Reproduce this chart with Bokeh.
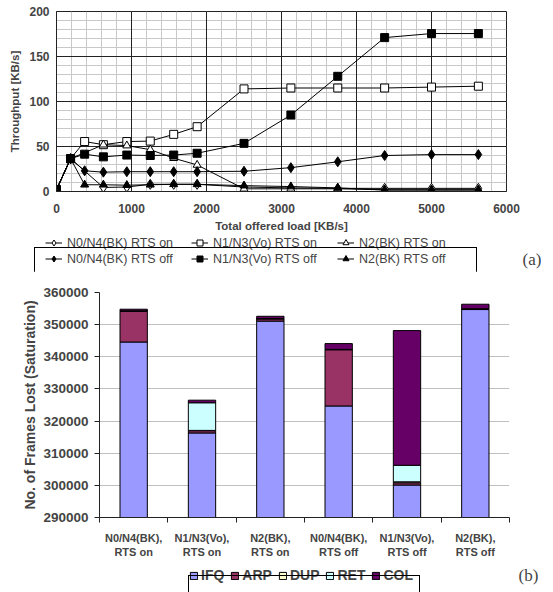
from bokeh.plotting import figure
from bokeh.models import (Range1d, FixedTicker, Legend, LegendItem, Label, Grid, Div,
                          ColumnDataSource, BasicTickFormatter)
from bokeh.layouts import column
from bokeh.embed import file_html
from bokeh.resources import INLINE

FONT = "Liberation Sans"

# ---------------- chart (a) data ----------------
load_all = [0, 187.5, 375, 625, 937.5, 1250, 1562.5, 1875, 2500, 3125, 3750, 4375, 5000, 5625]
load_on = [0, 187.5, 625, 937.5, 1250, 1562.5, 1875, 2500, 3125, 3750, 4375, 5000, 5625]
n0n4_rts_on = [2, 36.5, 4.5, 5, 8, 8, 8, 5, 4, 3.5, 3.5, 3.5, 3.5]
n1n3_rts_on = [2, 36.5, 55.5, 52, 55.5, 56, 63.5, 72, 114, 115, 115, 115, 116, 117]
n2_rts_on = [2, 36.5, 52, 51, 46.5, 37, 29.5, 3, 3, 3, 2, 2, 2]
n0n4_rts_off = [2, 36.5, 23, 21.5, 22, 22, 22, 22, 22.5, 26.5, 33, 40, 41, 41]
n1n3_rts_off = [2, 36.5, 41.5, 38.5, 40.5, 40, 40.5, 42.5, 53.5, 85, 128, 171, 175.5, 175.5]
n2_rts_off = [2, 36.5, 7.5, 7.5, 7, 7.5, 8, 8, 6.5, 5.5, 4, 1.5, 1.5, 1.5]
x_ticks_a = [0, 1000, 2000, 3000, 4000, 5000, 6000]
x_minor_a = list(range(0, 6001, 200))
y_ticks_a = [0, 50, 100, 150, 200]
y_minor_a = list(range(0, 201, 10))

# ---------------- chart (b) data ----------------
categories = ["N0/N4(BK),\nRTS on", "N1/N3(Vo),\nRTS on", "N2(BK),\nRTS on",
              "N0/N4(BK),\nRTS off", "N1/N3(Vo),\nRTS off", "N2(BK),\nRTS off"]
ifq = [344600, 316300, 351100, 324700, 300100, 354700]
arp = [9600, 700, 700, 17500, 700, 150]
dup = [50, 100, 50, 50, 300, 50]
ret = [50, 8600, 50, 50, 5150, 50]
col = [500, 800, 700, 1800, 41900, 1400]
y_ticks_b = [290000, 300000, 310000, 320000, 330000, 340000, 350000, 360000]
stack_names = ["IFQ", "ARP", "DUP", "RET", "COL"]
stack_colors = ["#9999FF", "#993366", "#FFFFCC", "#CCFFFF", "#660066"]


def no_align(p):
    if "frame_align" in p.properties():
        p.frame_align = False


def legend_strip(height):
    """A blank figure whose frame holds a legend and a panel tag."""
    f = figure(width=553, height=height, output_backend="svg", toolbar_location=None,
               x_range=Range1d(-2, -1), y_range=Range1d(-2, -1),
               x_axis_type=None, y_axis_type=None,
               min_border_left=0, min_border_right=0, min_border_top=0,
               min_border_bottom=0, outline_line_color=None,
               background_fill_color="white", border_fill_color="white")
    f.grid.visible = False
    no_align(f)
    return f


def legend_frame(left, top, width, height):
    """1px-high Div that draws the legend's rectangular frame over the strip above."""
    box = (f'<div style="position:relative;left:{left}px;top:{top}px;'
           f'width:{width}px;height:{height}px;margin:0 0 -{height}px 0;'
           f'border:1px solid #000;box-sizing:border-box;pointer-events:none;"></div>')
    return Div(text=box, width=553, height=1, margin=(0, 0, 0, 0),
               styles={"overflow": "visible"})


# ================= figure (a) =================
p1 = figure(width=553, height=235, output_backend="svg", toolbar_location=None,
            x_range=Range1d(0, 6000), y_range=Range1d(0, 200),
            min_border_left=56, min_border_right=47, min_border_top=11,
            min_border_bottom=44, background_fill_color="white",
            border_fill_color="white", outline_line_color="#222222")
no_align(p1)

xt = FixedTicker(ticks=x_ticks_a, minor_ticks=x_minor_a)
yt = FixedTicker(ticks=y_ticks_a, minor_ticks=y_minor_a)
p1.xaxis.ticker = xt
p1.yaxis.ticker = yt
p1.xgrid.ticker = xt
p1.ygrid.ticker = yt
for g in (p1.xgrid, p1.ygrid):
    g.grid_line_color = None
    g.minor_grid_line_color = "#c8c8c8"
    g.minor_grid_line_width = 1
p1.add_layout(Grid(dimension=0, ticker=xt, grid_line_color="#222222", grid_line_width=1))
p1.add_layout(Grid(dimension=1, ticker=yt, grid_line_color="#222222", grid_line_width=1))
for ax in (p1.xaxis, p1.yaxis):
    ax.major_tick_out = 0
    ax.major_tick_in = 0
    ax.minor_tick_out = 0
    ax.minor_tick_in = 0
    ax.axis_line_color = "#222222"
    ax.major_label_text_font = FONT
    ax.major_label_text_font_style = "bold"
    ax.major_label_text_font_size = "12px"
    ax.axis_label_text_font = FONT
    ax.axis_label_text_font_style = "bold"
    ax.axis_label_text_font_size = "11.5px"
p1.xaxis.axis_label = "Total offered load [KB/s]"
p1.yaxis.axis_label = "Throughput [KB/s]"
p1.xaxis.major_label_standoff = 12
p1.xaxis.axis_label_standoff = 4
p1.yaxis.major_label_standoff = 7
p1.yaxis.axis_label_standoff = 5

series = [
    ("N0/N4(BK) RTS on", load_on, n0n4_rts_on, "diamond", "white", 10),
    ("N1/N3(Vo) RTS on", load_all, n1n3_rts_on, "square", "white", 8),
    ("N2(BK) RTS on", load_on, n2_rts_on, "triangle", "white", 8),
    ("N0/N4(BK) RTS off", load_all, n0n4_rts_off, "diamond", "black", 10),
    ("N1/N3(Vo) RTS off", load_all, n1n3_rts_off, "square", "black", 8),
    ("N2(BK) RTS off", load_all, n2_rts_off, "triangle", "black", 8),
]

lg1 = legend_strip(35)
items1 = []
for name, xs, ys, marker, fill, size in series:
    src = ColumnDataSource(dict(x=xs, y=ys))
    for fig in (p1, lg1):
        lr = fig.line("x", "y", source=src, line_color="black", line_width=1)
        sr = fig.scatter("x", "y", source=src, marker=marker, size=size,
                         fill_color=fill, line_color="black", line_width=1)
    items1.append(LegendItem(label=name, renderers=[lr, sr]))

leg1 = Legend(items=items1, orientation="horizontal", nrows=2,
              location=(45, 4), border_line_color=None,
              background_fill_alpha=0,
              label_text_font=FONT, label_text_font_size="12.5px",
              glyph_width=17, glyph_height=15, label_height=15, label_width=123,
              label_standoff=5, spacing=1, padding=0, margin=0)
lg1.add_layout(leg1)
lg1.add_layout(Label(x=522, y=11, x_units="screen", y_units="screen", text="(a)",
                     text_font="Liberation Serif", text_font_size="17px",
                     text_baseline="middle", text_align="left"))
box1 = legend_frame(34, -35, 443, 32)

# ================= figure (b) =================
xpos = list(range(len(categories)))
src_b = ColumnDataSource(dict(x=xpos, IFQ=ifq, ARP=arp, DUP=dup, RET=ret, COL=col))

p2 = figure(width=553, height=290, output_backend="svg", toolbar_location=None,
            x_range=Range1d(-0.5, len(categories) - 0.5),
            y_range=Range1d(y_ticks_b[0], y_ticks_b[-1]),
            min_border_left=99, min_border_right=44, min_border_top=21,
            min_border_bottom=44, background_fill_color="white",
            border_fill_color="white", outline_line_color=None)
no_align(p2)

rs = p2.vbar_stack(stack_names, x="x", width=0.4, source=src_b,
                   fill_color=stack_colors, line_color="black", line_width=1)

p2.xgrid.visible = False
p2.ygrid.grid_line_color = "#c0c0c0"
p2.ygrid.grid_line_width = 1
ytb = FixedTicker(ticks=y_ticks_b)
p2.yaxis.ticker = ytb
p2.ygrid.ticker = ytb
p2.yaxis.formatter = BasicTickFormatter(use_scientific=False)
p2.xaxis.ticker = FixedTicker(ticks=xpos,
                              minor_ticks=[i - 0.5 for i in range(len(categories) + 1)])
p2.xaxis.major_label_overrides = {i: c for i, c in zip(xpos, categories)}
for ax in (p2.xaxis, p2.yaxis):
    ax.axis_line_color = "#222222"
    ax.major_tick_line_color = "#222222"
    ax.minor_tick_line_color = "#222222"
    ax.major_label_text_font = FONT
    ax.major_label_text_font_style = "bold"
    ax.axis_label_text_font = FONT
    ax.axis_label_text_font_style = "bold"
p2.yaxis.major_tick_out = 5
p2.yaxis.major_tick_in = 0
p2.yaxis.minor_tick_out = 0
p2.yaxis.minor_tick_in = 0
p2.yaxis.major_label_text_font_size = "13.5px"
p2.yaxis.major_label_standoff = 6
p2.yaxis.axis_label = "No. of Frames Lost (Saturation)"
p2.yaxis.axis_label_text_font_size = "14px"
p2.yaxis.axis_label_standoff = 2
p2.xaxis.major_tick_out = 0
p2.xaxis.major_tick_in = 0
p2.xaxis.minor_tick_out = 5
p2.xaxis.minor_tick_in = 0
p2.xaxis.major_label_text_font_size = "11px"
p2.xaxis.major_label_standoff = 9

lg2 = legend_strip(30)
rs2 = lg2.vbar_stack(stack_names, x="x", width=0.4, source=src_b,
                     fill_color=stack_colors, line_color="black", line_width=1)
items2 = [LegendItem(label=n, renderers=[r]) for n, r in zip(stack_names, rs2)]
leg2 = Legend(items=items2, orientation="horizontal", location=(189, 8),
              border_line_color=None, background_fill_alpha=0,
              label_text_font=FONT, label_text_font_style="bold",
              label_text_font_size="14px", glyph_width=9, glyph_height=9,
              label_height=14, label_width=0, label_standoff=3, spacing=6,
              padding=3, margin=0)
lg2.add_layout(leg2)
lg2.add_layout(Label(x=518, y=16, x_units="screen", y_units="screen", text="(b)",
                     text_font="Liberation Serif", text_font_size="17px",
                     text_baseline="middle", text_align="left"))
box2 = legend_frame(188, -28, 232, 21)

layout = column(p1, lg1, box1, p2, lg2, box2, spacing=0)
open("out.html", "w").write(file_html(layout, INLINE))
